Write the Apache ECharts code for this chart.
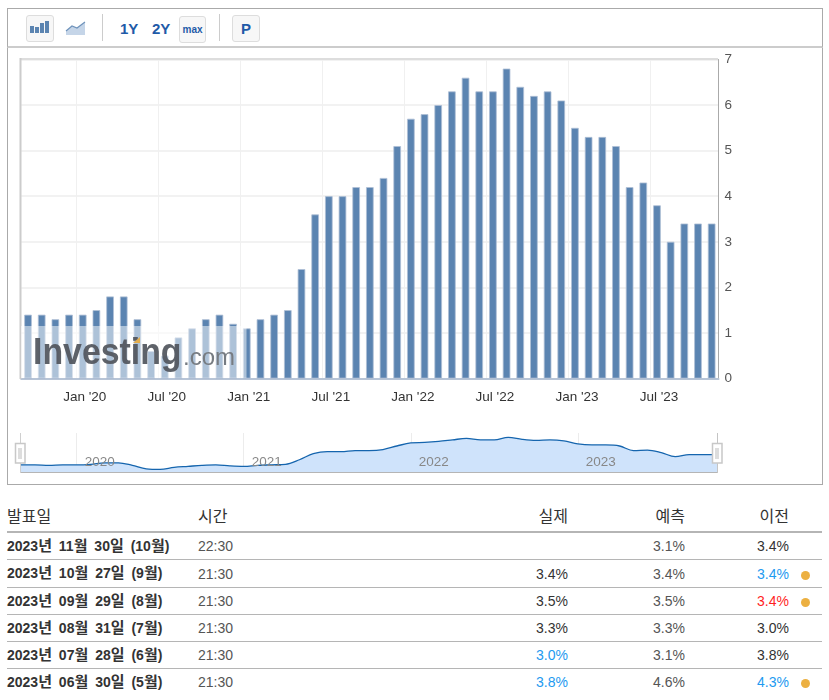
<!DOCTYPE html>
<html lang="ko">
<head>
<meta charset="utf-8">
<script src="https://cdn.jsdelivr.net/npm/echarts@6/dist/echarts.min.js"></script>
<style>
html,body{margin:0;padding:0;background:#fff;width:829px;height:700px;overflow:hidden;font-family:"Liberation Sans","Noto Sans CJK KR",sans-serif;color:#333}
#frame{position:absolute;left:7px;top:8px;width:814px;height:475px;border:1px solid #aaa;box-sizing:content-box}
#bar{position:absolute;left:7px;top:8px;width:814px;height:37px;border:1px solid #aaa;border-bottom:2px solid #ccc;z-index:3;background:#fff}
#chart{position:absolute;left:0;top:0;width:829px;height:490px;z-index:2}
.btn{position:absolute;box-sizing:border-box;border:1px solid #ddd;border-radius:3px;background:#f7f7f7;top:6px;height:27px;text-align:center;color:#1f5ba8;font-weight:bold}
.t{position:absolute;top:6px;height:27px;line-height:27px;color:#1f5ba8;font-weight:bold;font-size:15px}
.sep{position:absolute;top:5px;height:27px;width:1px;background:#ccc}
svg{position:absolute;display:block}
table{position:absolute;left:7px;top:502px;width:815px;border-collapse:collapse;table-layout:fixed;font-size:14px;z-index:2}
th{font-weight:normal;height:25px;padding:0 0 4px 0;border-bottom:2px solid #b5b5b5;color:#333;font-size:16px}
td{height:26px;padding:0;border-bottom:1px solid #b5b5b5;color:#333;white-space:nowrap}
tbody tr:nth-child(2) td{height:27px}
tr:last-child td{border-bottom:none}
.l{text-align:left}.r{text-align:right}
td.b{font-weight:bold;word-spacing:3px;height:25px;padding-bottom:1px}
tbody tr:nth-child(2) td.b{height:26px}
td.time{color:#555}td.f{color:#555}
.k{font-size:15px;line-height:1}
.blue{color:#1e9af0}.red{color:#ff1f1f}
.dot{display:inline-block;width:9px;height:9px;border-radius:50%;background:#ecb041;margin-left:12px;vertical-align:-1px}
</style>
</head>
<body>
<div id="frame"></div>
<div id="bar">
  <div class="btn" style="left:18px;width:28px">
    <svg width="20" height="12" style="left:3px;top:5px"><g fill="#5b84b1"><rect x="0" y="5" width="4" height="7"/><rect x="5" y="6" width="4" height="6"/><rect x="10" y="2" width="4" height="10"/><rect x="15" y="0" width="4" height="12"/></g></svg>
  </div>
  <svg width="22" height="16" style="left:57px;top:11px"><path d="M1 11 L7 6 L12 8 L20 2 L20 15 L1 15 Z" fill="#c5d5e8"/><path d="M1 11 L7 6 L12 8 L20 2" fill="none" stroke="#6f93bb" stroke-width="1.2"/></svg>
  <div class="sep" style="left:94px"></div>
  <div class="t" style="left:112px">1Y</div>
  <div class="t" style="left:144px">2Y</div>
  <div class="btn" style="left:171px;width:27px;font-size:10px;line-height:26px;top:7px">max</div>
  <div class="sep" style="left:211px"></div>
  <div class="btn" style="left:224px;width:28px;font-size:15px;line-height:26px">P</div>
</div>
<div id="chart"></div>
<table id="tbl"><colgroup><col style="width:191px"><col style="width:100px"><col style="width:270px"><col style="width:117px"><col style="width:104px"><col style="width:33px"></colgroup><thead></thead><tbody></tbody></table>
<script>
const categories = ["2019-09","2019-10","2019-11","2019-12","2020-01","2020-02","2020-03","2020-04","2020-05","2020-06","2020-07","2020-08","2020-09","2020-10","2020-11","2020-12","2021-01","2021-02","2021-03","2021-04","2021-05","2021-06","2021-07","2021-08","2021-09","2021-10","2021-11","2021-12","2022-01","2022-02","2022-03","2022-04","2022-05","2022-06","2022-07","2022-08","2022-09","2022-10","2022-11","2022-12","2023-01","2023-02","2023-03","2023-04","2023-05","2023-06","2023-07","2023-08","2023-09","2023-10","2023-11"];
const values = [1.4,1.4,1.3,1.4,1.4,1.5,1.8,1.8,1.3,0.6,0.5,0.9,1.1,1.3,1.4,1.2,1.1,1.3,1.4,1.5,2.4,3.6,4.0,4.0,4.2,4.2,4.4,5.1,5.7,5.8,6.0,6.3,6.6,6.3,6.3,6.8,6.4,6.2,6.3,6.1,5.5,5.3,5.3,5.1,4.2,4.3,3.8,3.0,3.4,3.4,3.4];
const monthNames = {"01":"Jan","07":"Jul"};
const tableHead = ["발표일","시간","실제","예측","이전"];
const releaseDates = ["2023년 11월 30일 (10월)","2023년 10월 27일 (9월)","2023년 09월 29일 (8월)","2023년 08월 31일 (7월)","2023년 07월 28일 (6월)","2023년 06월 30일 (5월)"];
const releaseTimes = ["22:30","21:30","21:30","21:30","21:30","21:30"];
const actuals = ["","3.4%","3.5%","3.3%","3.0%","3.8%"];
const actualTones = ["","","","","blue","blue"];
const forecasts = ["3.1%","3.4%","3.5%","3.3%","3.1%","4.6%"];
const previous = ["3.4%","3.4%","3.4%","3.0%","3.8%","4.3%"];
const previousTones = ["","blue","red","","","blue"];
const revised = [false,true,true,false,false,true];

const hangul = s => s.replace(/[가-힣]/g, m=>'<span class="k">'+m+'</span>');
document.querySelector('#tbl thead').innerHTML = '<tr><th class="l">'+tableHead[0]+'</th><th class="l">'+tableHead[1]+'</th><th class="r">'+tableHead[2]+'</th><th class="r">'+tableHead[3]+'</th><th class="r">'+tableHead[4]+'</th><th></th></tr>';
document.querySelector('#tbl tbody').innerHTML = releaseDates.map((d,i)=>
 '<tr><td class="l b">'+hangul(d)+'</td><td class="l time">'+releaseTimes[i]+'</td><td class="r '+actualTones[i]+'">'+actuals[i]+'</td><td class="r f">'+forecasts[i]+'</td><td class="r '+previousTones[i]+'">'+previous[i]+'</td><td>'+(revised[i]?'<span class="dot"></span>':'')+'</td></tr>').join('');

const isMainTick = i => { const m = categories[i].slice(5); return m==="01"||m==="07"; };
const isYearTick = i => categories[i].slice(5)==="01";
const font = '"Liberation Sans","Noto Sans CJK KR",sans-serif';
function handle(x){
  return [
    {type:'rect',z:120,shape:{x:x,y:443.5,width:9.5,height:19.5},style:{fill:'#fff',stroke:'#c8c8c8',lineWidth:1.5}},
    {type:'line',z:121,shape:{x1:x+3.5,y1:448,x2:x+3.5,y2:459},style:{stroke:'#bbb',lineWidth:1}},
    {type:'line',z:121,shape:{x1:x+5.5,y1:448,x2:x+5.5,y2:459},style:{stroke:'#bbb',lineWidth:1}}
  ];
}
const chart = echarts.init(document.getElementById('chart'),null,{renderer:'canvas'});
chart.setOption({
  animation:false,
  textStyle:{fontFamily:font},
  grid:[
    {left:21.2,top:59.5,width:697.3,height:319},
    {left:21,top:433,width:696,height:40}
  ],
  xAxis:[
    {type:'category',gridIndex:0,data:categories,boundaryGap:true,
     axisLine:{lineStyle:{color:'#b7c4d6',width:2}},
     axisTick:{show:false,alignWithLabel:true,interval:i=>isMainTick(i)},
     axisLabel:{interval:i=>isMainTick(i),hideOverlap:false,color:'#333',fontSize:13.5,margin:12,padding:[0,0,0,4],
       formatter:v=>monthNames[v.slice(5)]+" '"+v.slice(2,4)},
     splitLine:{show:true,interval:i=>isMainTick(i),lineStyle:{color:'#f0f0f0',width:1}}},
    {type:'category',gridIndex:1,position:'bottom',data:categories,boundaryGap:false,
     axisLine:{lineStyle:{color:'#b5b5b5',width:1}},
     axisTick:{show:false},
     axisLabel:{show:false},
     splitLine:{show:true,interval:i=>isYearTick(i),lineStyle:{color:'#ececec',width:1}}},
    {type:'category',gridIndex:1,position:'bottom',data:categories,boundaryGap:false,z:10,
     axisLine:{show:false},
     axisTick:{show:false},
     axisLabel:{inside:true,interval:i=>isYearTick(i),color:'#888',fontSize:13.5,margin:4,align:'left',padding:[0,0,0,8],
       formatter:v=>v.slice(0,4)},
     splitLine:{show:false}}
  ],
  yAxis:[
    {type:'value',gridIndex:0,position:'right',min:0,max:7,interval:1,
     axisLine:{show:true,lineStyle:{color:'#aaa',width:1}},
     axisTick:{show:false},
     axisLabel:{color:'#555',fontSize:13.5,margin:6,padding:[2,0,0,0]},
     splitLine:{show:true,lineStyle:{color:'#eeeeee',width:1.5}}},
    {type:'value',gridIndex:1,min:-0.2,max:7.65,show:false,splitLine:{show:false}}
  ],
  series:[
    {type:'bar',xAxisIndex:0,yAxisIndex:0,data:values,barWidth:7.6,z:2,
     itemStyle:{color:'#5b84b1',borderColor:'#aebfd6',borderWidth:0.8}},
    {type:'line',xAxisIndex:1,yAxisIndex:1,data:values,smooth:0.35,showSymbol:false,z:2,
     lineStyle:{color:'#1565ae',width:1.3},areaStyle:{color:'#cfe3fb',opacity:1}}
  ],
  graphic:{elements:[
    {type:'line',z:50,shape:{x1:20,y1:59,x2:718,y2:59},style:{stroke:'#dddddd',lineWidth:2}},
    {type:'line',z:50,shape:{x1:20.5,y1:58,x2:20.5,y2:379},style:{stroke:'#cccccc',lineWidth:2}},
    {type:'line',z:50,shape:{x1:20.5,y1:433,x2:20.5,y2:473},style:{stroke:'#cfcfcf',lineWidth:1}},
    {type:'line',z:50,shape:{x1:717.5,y1:433,x2:717.5,y2:473},style:{stroke:'#c4c4c4',lineWidth:1}},
    {type:'rect',z:100,shape:{x:21,y:326,width:225.5,height:52},style:{fill:'rgba(255,255,255,0.5)'}},
    {type:'text',z:110,x:33,y:354,scaleX:0.94,style:{text:'Investing',fontFamily:font,fontWeight:'bold',fontSize:36,fill:'#50555c',opacity:0.92,verticalAlign:'middle'}},
    {type:'polygon',z:111,shape:{points:[[133,343],[140,337],[140,343]]},style:{fill:'#e3ae4f'}},
    {type:'text',z:110,x:183,y:358,style:{text:'.com',fontFamily:font,fontSize:24,fill:'#777c82',verticalAlign:'middle'}},
    ...handle(15.5),...handle(712.5)
  ]}
});
</script>
</body>
</html>
